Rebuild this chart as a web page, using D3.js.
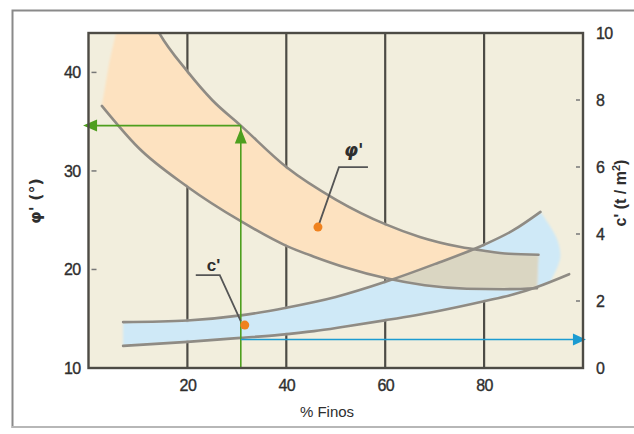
<!DOCTYPE html>
<html>
<head>
<meta charset="utf-8">
<script src="https://cdn.jsdelivr.net/npm/d3@7"></script>
<style>
  html, body { margin: 0; padding: 0; background: #fff; }
  svg { display: block; font-family: "Liberation Sans", Arial, sans-serif; }
</style>
</head>
<body>
<svg id="chart" width="634" height="434"></svg>
<script>
// Axis ticks
const xTicks = [20, 40, 60, 80];
const phiTicks = [10, 20, 30, 40];
const cTicks = [0, 2, 4, 6, 8, 10];

// φ' band (left axis, degrees) — [% finos, φ']
const phiUpper = [[13.2, 45], [14.3, 44], [20, 40.1], [25, 37.2], [30.8, 34.6], [40, 30.4], [50, 27.1], [60, 24.6], [67, 23.3], [75, 22.3], [80, 21.9], [85, 21.6], [91, 21.5]];
const phiLower = [[2.7, 36.6], [10, 32.4], [20, 28.4], [30.8, 24.9], [40, 22.4], [45.6, 21.3], [52, 20.2], [60.2, 19.1], [68, 18.4], [76.5, 18.05], [84, 18.0], [90.7, 18.1]];
const phiLeftEdge = [[4.2, 41], [6.0, 45]];

// c' band (right axis, t/m²) — [% finos, c']
const cUpper = [[7, 1.37], [20, 1.42], [30.8, 1.57], [40, 1.8], [50, 2.12], [60.2, 2.58], [70, 3.1], [80, 3.68], [86, 4.12], [91.4, 4.66]];
const cLower = [[7, 0.66], [20, 0.78], [30.8, 0.9], [38.6, 0.99], [45.6, 1.1], [52, 1.24], [60.2, 1.43], [70, 1.68], [80.2, 2.0], [86, 2.2], [90.7, 2.42], [97.2, 2.8]];
const cFillEnd = [[91.4, 4.66], [94.6, 3.9], [95.4, 3.3], [93.3, 2.55]];

// Reading example: 31 % finos → φ' ≈ 34.6°, c' ≈ 0.85 t/m²
const readFinos = 30.8;
const readPhi = 34.6;
const readC = 0.85;

// Labelled points on each band
const phiMarker = { x: 46.4, y: 24.3, label: "φ'" };
const cMarker = { x: 31.6, y: 1.28, label: "c'" };

const svg = d3.select("#chart");
const W = 634;
const plot = { left: 88.5, right: 583, top: 33, bottom: 368 };

const x = d3.scaleLinear().domain([0, 100]).range([plot.left, plot.right]);
const yL = d3.scaleLinear().domain([10, 44]).range([plot.bottom, plot.top]);
const yR = d3.scaleLinear().domain([0, 10]).range([plot.bottom, plot.top]);

const colors = {
  frame: "#8a8a8a",
  bg: "#f2eedd",
  grid: "#4d4b45",
  curve: "#8f8b84",
  phiFill: "#fde2c0",
  cFill: "#cfe9f7",
  overlap: "#dad6c2",
  green: "#4e9f1e",
  blue: "#1b9bd1",
  dot: "#f0821e",
  text: "#2e2e2e"
};

// outer frame
svg.append("rect").attr("x", 12.5).attr("y", 10.5).attr("width", 640).attr("height", 416.5)
  .attr("fill", "#fff").attr("stroke", colors.frame).attr("stroke-width", 2);
svg.append("line").attr("x1", 12).attr("x2", W).attr("y1", 427).attr("y2", 427)
  .attr("stroke", "#e4e4e4").attr("stroke-width", 1);

const defs = svg.append("defs");
defs.append("clipPath").attr("id", "plotClip").append("rect")
  .attr("x", plot.left).attr("y", plot.top)
  .attr("width", plot.right - plot.left).attr("height", plot.bottom - plot.top);
defs.append("filter").attr("id", "soft").append("feGaussianBlur").attr("stdDeviation", 1.2);

// plot background
svg.append("rect").attr("x", plot.left).attr("y", plot.top)
  .attr("width", plot.right - plot.left).attr("height", plot.bottom - plot.top)
  .attr("fill", colors.bg);

// vertical grid lines
svg.append("g").selectAll("line").data(xTicks).join("line")
  .attr("x1", d => x(d)).attr("x2", d => x(d))
  .attr("y1", plot.top).attr("y2", plot.bottom)
  .attr("stroke", colors.grid).attr("stroke-width", 2.2);

const lineL = d3.line().x(d => x(d[0])).y(d => yL(d[1])).curve(d3.curveMonotoneX);
const lineR = d3.line().x(d => x(d[0])).y(d => yR(d[1])).curve(d3.curveMonotoneX);
const endR = d3.line().x(d => x(d[0])).y(d => yR(d[1])).curve(d3.curveCatmullRom);
const polyL = d3.line().x(d => x(d[0])).y(d => yL(d[1]));
const cont = p => "L" + p.slice(1);

// band outlines as closed paths
const phiPath = lineL(phiUpper) + cont(lineL(phiLower.slice().reverse())) + cont(polyL(phiLeftEdge)) + "Z";
const cLowerFill = cLower.filter(d => d[0] <= 91).concat([cFillEnd[cFillEnd.length - 1]]);
const cPath = lineR(cUpper) + cont(endR(cFillEnd)) + cont(lineR(cLowerFill.slice().reverse())) + "Z";

defs.append("clipPath").attr("id", "cClip").append("path").attr("d", cPath);

const fills = svg.append("g").attr("clip-path", "url(#plotClip)");
const fg = fills.append("g").attr("filter", "url(#soft)");
fg.append("path").attr("d", cPath).attr("fill", colors.cFill);
fg.append("path").attr("d", phiPath).attr("fill", colors.phiFill);
fg.append("g").attr("clip-path", "url(#cClip)")
  .append("path").attr("d", phiPath).attr("fill", colors.overlap);

// band boundary curves
const curves = svg.append("g").attr("clip-path", "url(#plotClip)")
  .attr("fill", "none").attr("stroke", colors.curve).attr("stroke-width", 2.6)
  .attr("stroke-linecap", "round");
curves.append("path").attr("d", lineL(phiUpper));
curves.append("path").attr("d", lineL(phiLower));
curves.append("path").attr("d", lineR(cUpper));
curves.append("path").attr("d", lineR(cLower));

// reading arrows
const gx = x(readFinos), gy = yL(readPhi);
svg.append("line").attr("x1", gx).attr("x2", gx).attr("y1", plot.bottom).attr("y2", gy)
  .attr("stroke", colors.green).attr("stroke-width", 1.6);
svg.append("line").attr("x1", gx).attr("x2", x(-0.5)).attr("y1", gy).attr("y2", gy)
  .attr("stroke", colors.green).attr("stroke-width", 1.6);
svg.append("path")
  .attr("d", `M${gx},${gy + 3} L${gx - 6},${gy + 18} L${gx + 6},${gy + 18} Z`)
  .attr("fill", colors.green);
const lx = x(-1.1);
svg.append("path")
  .attr("d", `M${lx},${gy} L${lx + 14},${gy - 6} L${lx + 14},${gy + 6} Z`)
  .attr("fill", colors.green);

const by = yR(readC);
const rx = x(100.6);
svg.append("line").attr("x1", gx).attr("x2", rx - 8).attr("y1", by).attr("y2", by)
  .attr("stroke", colors.blue).attr("stroke-width", 1.6);
svg.append("path")
  .attr("d", `M${rx},${by} L${rx - 13},${by - 6} L${rx - 13},${by + 6} Z`)
  .attr("fill", colors.blue);

// labelled markers with leader lines
const pmx = x(phiMarker.x), pmy = yL(phiMarker.y);
const cmx = x(cMarker.x), cmy = yR(cMarker.y);
const leaders = svg.append("g").attr("fill", "none").attr("stroke", "#555").attr("stroke-width", 1.8);
leaders.append("path").attr("d", `M${pmx},${pmy} L${pmx + 21},${pmy - 60} L${pmx + 50},${pmy - 60}`);
leaders.append("path").attr("d", `M${cmx - 4},${cmy - 4} L${cmx - 25},${cmy - 50} L${cmx - 49},${cmy - 50}`);

svg.append("circle").attr("cx", pmx).attr("cy", pmy).attr("r", 4.5).attr("fill", colors.dot);
svg.append("circle").attr("cx", cmx).attr("cy", cmy).attr("r", 4.5).attr("fill", colors.dot);

svg.append("text").attr("x", pmx + 26).attr("y", pmy - 71)
  .attr("font-size", 18).attr("font-weight", "bold").attr("font-style", "italic")
  .attr("fill", colors.text).attr("font-family", "DejaVu Sans")
  .text(phiMarker.label);
svg.append("text").attr("x", cmx - 38).attr("y", cmy - 54)
  .attr("font-size", 17).attr("font-weight", "bold")
  .attr("fill", colors.text)
  .text(cMarker.label);

// plot frame
svg.append("rect").attr("x", plot.left).attr("y", plot.top)
  .attr("width", plot.right - plot.left).attr("height", plot.bottom - plot.top)
  .attr("fill", "none").attr("stroke", colors.grid).attr("stroke-width", 2.4);

function styleTicks(g) {
  g.select(".domain").remove();
  g.selectAll("text").attr("font-size", 16).attr("fill", colors.text)
    .attr("stroke", colors.text).attr("stroke-width", 0.35)
    .attr("font-family", "Liberation Sans, Arial, sans-serif").attr("letter-spacing", "-0.6");
}

// left axis
svg.append("g").attr("transform", `translate(${plot.left},0)`)
  .call(d3.axisLeft(yL).tickValues(phiTicks).tickSize(0).tickPadding(8))
  .call(styleTicks);
svg.append("g").selectAll("line").data(phiTicks.filter(d => d > 10)).join("line")
  .attr("x1", plot.left + 3).attr("x2", plot.left + 8)
  .attr("y1", d => yL(d)).attr("y2", d => yL(d))
  .attr("stroke", "#777").attr("stroke-width", 1.5);

// right axis
svg.append("g").attr("transform", `translate(${plot.right},0)`)
  .call(d3.axisRight(yR).tickValues(cTicks).tickSize(0).tickPadding(13))
  .call(styleTicks);
svg.append("g").selectAll("line").data(cTicks.filter(d => d > 0 && d < 10)).join("line")
  .attr("x1", plot.right - 7).attr("x2", plot.right - 3)
  .attr("y1", d => yR(d)).attr("y2", d => yR(d))
  .attr("stroke", "#777").attr("stroke-width", 1.5);

// bottom axis
svg.append("g").attr("transform", `translate(0,${plot.bottom})`)
  .call(d3.axisBottom(x).tickValues(xTicks).tickSize(0).tickPadding(12))
  .call(styleTicks);

// axis titles
svg.append("text").attr("x", 327).attr("y", 417).attr("text-anchor", "middle")
  .attr("font-size", 15).attr("fill", colors.text).text("% Finos");
svg.append("text").attr("transform", "translate(41,201) rotate(-90)")
  .attr("text-anchor", "middle").attr("font-size", 16).attr("font-weight", "bold")
  .attr("fill", colors.text).attr("font-family", "DejaVu Sans")
  .text("φ' (°)");
svg.append("text").attr("transform", "translate(626,193) rotate(-90)")
  .attr("text-anchor", "middle").attr("font-size", 16).attr("font-weight", "bold")
  .attr("fill", colors.text)
  .html("c' (t / m<tspan dy='-6' font-size='11'>2</tspan><tspan dy='6'>)</tspan>");
</script>
</body>
</html>
